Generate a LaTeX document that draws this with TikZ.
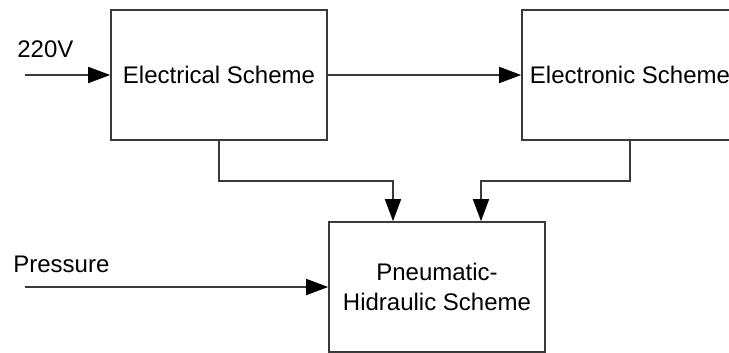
\documentclass[tikz,border=0pt]{standalone}
\usepackage{fontspec}
\setmainfont{Liberation Sans}
\usepackage{tikz}
\usetikzlibrary{arrows.meta,positioning,calc}
\definecolor{line2}{HTML}{3A3A3A}

\begin{document}
\begin{tikzpicture}[
      x=0.5pt, y=-0.5pt,
      block/.style={draw=line2, line width=0.8pt, minimum width=108pt, minimum height=65pt,
        inner sep=0pt, align=center, font=\fontsize{12}{15}\selectfont},
      lbl/.style={anchor=base west, inner sep=0pt, font=\fontsize{12}{15}\selectfont},
      link/.style={draw=line2, line width=0.8pt, -{Triangle[length=11pt,width=8pt,black]}}
  ]
    \useasboundingbox (0,0) rectangle (729,353);
    \clip (0,0) rectangle (729,353);
    \node[block] (elec) at (219,75) {Electrical Scheme};
    \node[block] (elnc) at (630,75) {Electronic Scheme};
    \node[block] (pneu) at (437,287) {Pneumatic-\\Hidraulic Scheme};
    \coordinate (vin) at (25,75);
    \coordinate (pin) at (25,287);
    \node[lbl] (vlbl) at (17,58) {220V};
    \node[lbl] (plbl) at (13,272) {Pressure};
    \draw[link] (vin) -- (elec.west);
    \draw[link] (elec) -- (elnc);
    \draw[link] (pin) -- (pneu.west);
    \draw[link] (elec.south) -- ++(0,40) -| ([xshift=-22pt]pneu.north);
    \draw[link] (elnc.south) -- ++(0,40) -| ([xshift=22pt]pneu.north);
  \end{tikzpicture}
\end{document}
